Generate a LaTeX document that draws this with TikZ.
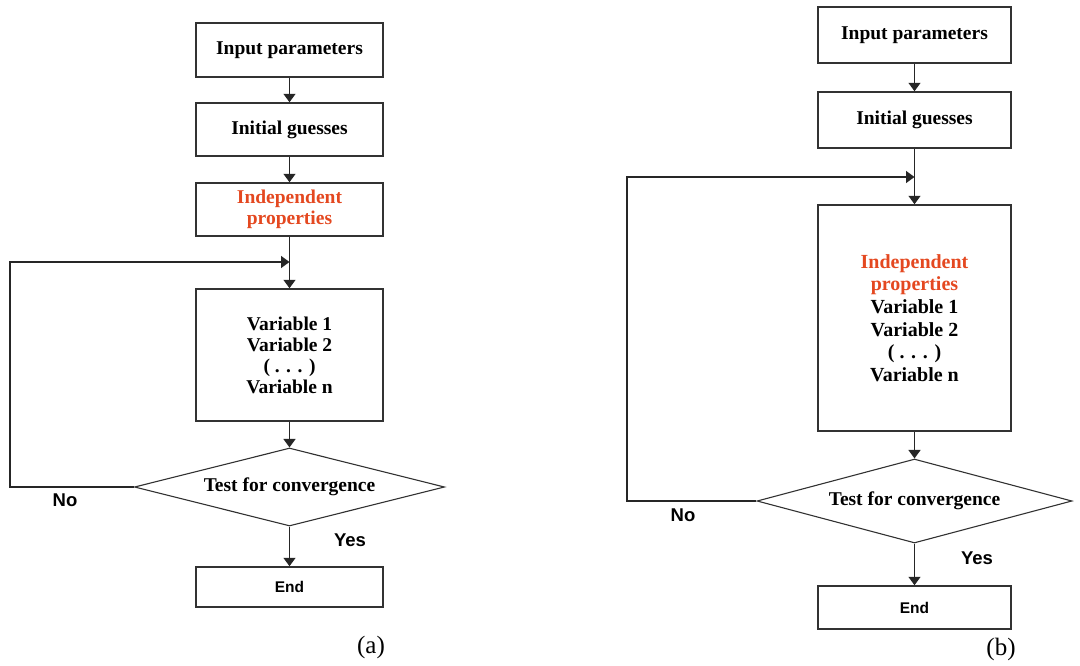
\documentclass[tikz,border=0pt]{standalone}
\usepackage{fontspec}
\setmainfont{Liberation Serif}
\setsansfont{Liberation Sans}
\usetikzlibrary{arrows.meta,shapes.geometric}
\definecolor{propred}{RGB}{228,72,32}
\definecolor{edgegray}{RGB}{50,50,50}

\begin{document}
\begin{tikzpicture}[x=1pt, y=-1pt, >={Triangle[length=8.5pt,width=12pt]},
    box/.style={draw=edgegray, line width=1.5pt, rectangle, inner sep=2pt,
                align=center, font=\fontsize{19.5}{21}\selectfont\bfseries},
    test/.style={draw=edgegray, line width=1.1pt, diamond, aspect=4, inner sep=0pt,
                 font=\fontsize{19.5}{21}\selectfont\bfseries},
    flow/.style={->, line width=1.5pt, black!85},
    answer/.style={font=\fontsize{18.5}{20}\selectfont\sffamily\bfseries},
    panel/.style={font=\fontsize{25}{27}\selectfont}]
  \useasboundingbox (0,0) rectangle (1080,665);

  % (a)
  \node[box, minimum width=187, minimum height=54] (inA) at (289.5,50) {Input parameters};
  \node[box, minimum width=187, minimum height=53] (guessA) at (289.5,129.5) {Initial guesses};
  \node[box, minimum width=187, minimum height=53] (indA) at (289.5,209.5) {\color{propred}Independent\\\color{propred}properties};
  \node[box, minimum width=187, minimum height=132] (varA) at (289.5,355) {Variable 1\\Variable 2\\( . . . )\\Variable n};
  \node[test, minimum width=310, minimum height=78] (testA) at (289.5,487) {Test for convergence};
  \node[box, minimum width=187, minimum height=40, font=\fontsize{15.5}{17}\selectfont\sffamily\bfseries] (endA) at (289.5,587) {End};
  \coordinate (cornerA) at (10,262);
  \coordinate (joinA) at (289.5,262);
  \draw[flow] (inA) -- (guessA);
  \draw[flow] (guessA) -- (indA);
  \draw[flow] (indA) -- (varA);
  \draw[flow] (varA) -- (testA);
  \draw[flow] (testA) -- (endA);
  \draw[flow] (testA.west) -| (cornerA) -- (joinA);
  \node[answer] (noA) at (65,500) {No};
  \node[answer] (yesA) at (350,540) {Yes};
  \node[panel] (capA) at (371,647) {(a)};

  % (b)
  \node[box, minimum width=193, minimum height=56] (inB) at (914.5,35) {Input parameters};
  \node[box, minimum width=193, minimum height=56] (guessB) at (914.5,120) {Initial guesses};
  \node[box, minimum width=193, minimum height=226, font=\fontsize{20}{22.6}\selectfont\bfseries] (bigB) at (914.5,318)
    {\color{propred}Independent\\\color{propred}properties\\Variable 1\\Variable 2\\( . . . )\\Variable n};
  \node[test, minimum width=315, minimum height=84] (testB) at (914.5,501) {Test for convergence};
  \node[box, minimum width=193, minimum height=43, font=\fontsize{15.5}{17}\selectfont\sffamily\bfseries] (endB) at (914.5,607.5) {End};
  \coordinate (cornerB) at (627,177);
  \coordinate (joinB) at (914.5,177);
  \draw[flow] (inB) -- (guessB);
  \draw[flow] (guessB) -- (bigB);
  \draw[flow] (bigB) -- (testB);
  \draw[flow] (testB) -- (endB);
  \draw[flow] (testB.west) -| (cornerB) -- (joinB);
  \node[answer] (noB) at (683,515) {No};
  \node[answer] (yesB) at (977,558) {Yes};
  \node[panel] (capB) at (1001,649) {(b)};
\end{tikzpicture}
\end{document}
